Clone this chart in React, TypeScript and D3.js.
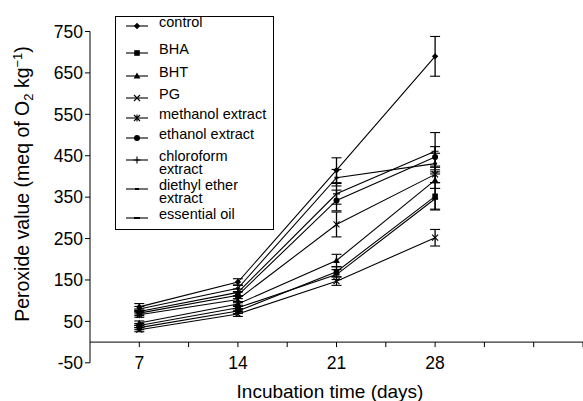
import React from "react";
import * as d3 from "d3";

const days = [7, 14, 21, 28];
const xTicks = [7, 10.5, 14, 17.5, 21, 24.5, 28, 31.5, 35, 38.5];
const xLabels = [7, 14, 21, 28];
const yTicks = [-50, 50, 150, 250, 350, 450, 550, 650, 750];

const control = [85, 145, 415, 690];
const controlErr = [8, 8, 30, 48];
const bha = [35, 75, 170, 352];
const bhaErr = [5, 6, 12, 33];
const bht = [46, 92, 197, 391];
const bhtErr = [5, 6, 15, 20];
const pg = [30, 68, 147, 252];
const pgErr = [5, 6, 10, 20];
const methanol = [66, 103, 284, 405];
const methanolErr = [6, 8, 30, 20];
const ethanol = [70, 113, 342, 447];
const ethanolErr = [6, 8, 25, 25];
const chloroform = [74, 120, 358, 461];
const chloroformErr = [6, 8, 25, 45];
const diethyl = [80, 130, 397, 431];
const diethylErr = [6, 8, 20, 25];
const essential = [40, 83, 163, 346];
const essentialErr = [5, 6, 12, 25];

const seriesNames = [
  ["control"],
  ["BHA"],
  ["BHT"],
  ["PG"],
  ["methanol extract"],
  ["ethanol extract"],
  ["chloroform", "extract"],
  ["diethyl ether", "extract"],
  ["essential oil"],
];
const seriesValues = [control, bha, bht, pg, methanol, ethanol, chloroform, diethyl, essential];
const seriesErrors = [controlErr, bhaErr, bhtErr, pgErr, methanolErr, ethanolErr, chloroformErr, diethylErr, essentialErr];
const markerTypes = ["diamond", "square", "triangle", "x", "asterisk", "circle", "plus", "dash", "dash2"];
const legendRowY = [26, 53, 76, 98, 118, 138, 160, 189, 218];

const W = 583;
const H = 401;
const FONT = "'Liberation Sans', Arial, Helvetica, sans-serif";

function Marker({ type, cx, cy }: { type: string; cx: number; cy: number }) {
  const r = 3.2;
  switch (type) {
    case "diamond":
      return <path d={`M${cx},${cy - r} L${cx + r},${cy} L${cx},${cy + r} L${cx - r},${cy} Z`} fill="#000" />;
    case "square":
      return <rect x={cx - 2.8} y={cy - 2.8} width={5.6} height={5.6} fill="#000" />;
    case "triangle":
      return <path d={`M${cx},${cy - 3.4} L${cx + 3.4},${cy + 2.6} L${cx - 3.4},${cy + 2.6} Z`} fill="#000" />;
    case "x":
      return (
        <path d={`M${cx - 3},${cy - 3} L${cx + 3},${cy + 3} M${cx - 3},${cy + 3} L${cx + 3},${cy - 3}`} stroke="#000" strokeWidth={1.1} />
      );
    case "asterisk":
      return (
        <path
          d={`M${cx - 3},${cy - 3} L${cx + 3},${cy + 3} M${cx - 3},${cy + 3} L${cx + 3},${cy - 3} M${cx},${cy - 3.5} L${cx},${cy + 3.5}`}
          stroke="#000"
          strokeWidth={1.1}
        />
      );
    case "circle":
      return <circle cx={cx} cy={cy} r={3} fill="#000" />;
    case "plus":
      return <path d={`M${cx - 3.5},${cy} L${cx + 3.5},${cy} M${cx},${cy - 3.5} L${cx},${cy + 3.5}`} stroke="#000" strokeWidth={1.1} />;
    case "dash":
      return <rect x={cx - 2} y={cy - 1} width={4} height={2} fill="#000" />;
    default:
      return <rect x={cx - 3} y={cy - 1} width={6} height={2} fill="#000" />;
  }
}

export default function App() {
  const x = d3.scaleLinear().domain([3.5, 38.5]).range([90, 583]);
  const y = d3.scaleLinear().domain([-50, 750]).range([362.8, 31.5]);
  const line = d3
    .line<number>()
    .x((_, i) => x(days[i]))
    .y((d) => y(d));

  const y0 = y(0);

  return (
    <svg width={W} height={H} style={{ position: "absolute", left: 0, top: 0, background: "#fff" }} fontFamily={FONT}>
      <rect x={0} y={0} width={W} height={H} fill="#fff" />
      {/* Y axis */}
      <line x1={90} x2={90} y1={y(-50)} y2={y(750)} stroke="#000" strokeWidth={1} />
      {yTicks.map((t) => (
        <g key={t}>
          <line x1={85} x2={90} y1={y(t)} y2={y(t)} stroke="#000" />
          <text x={83} y={y(t)} dy="0.36em" textAnchor="end" fontSize={17.5}>
            {t}
          </text>
        </g>
      ))}
      {/* X axis */}
      <line x1={90} x2={W} y1={y0} y2={y0} stroke="#000" strokeWidth={1} />
      {xTicks.map((t) => (
        <line key={t} x1={x(t)} x2={x(t)} y1={y0} y2={y0 + 5} stroke="#000" />
      ))}
      {xLabels.map((t) => (
        <text key={t} x={x(t)} y={y0 + 21} dy="0.36em" textAnchor="middle" fontSize={17.5}>
          {t}
        </text>
      ))}
      <text x={330} y={391} dy="0.36em" textAnchor="middle" fontSize={19}>
        Incubation time (days)
      </text>
      <text transform={`translate(29,184) rotate(-90)`} textAnchor="middle" fontSize={19.5}>
        Peroxide value (meq of O
        <tspan fontSize={13} dy={4}>2</tspan>
        <tspan dy={-4}> kg</tspan>
        <tspan fontSize={13} dy={-7}>−1</tspan>
        <tspan dy={7}>)</tspan>
      </text>

      {/* Series */}
      {seriesValues.map((vals, si) => (
        <g key={si}>
          <path d={line(vals) || ""} fill="none" stroke="#000" strokeWidth={1.1} />
          {vals.map((v, i) => {
            const e = seriesErrors[si][i];
            const cx = x(days[i]);
            return (
              <g key={i}>
                <line x1={cx} x2={cx} y1={y(v - e)} y2={y(v + e)} stroke="#000" strokeWidth={1.3} />
                <line x1={cx - 5} x2={cx + 5} y1={y(v - e)} y2={y(v - e)} stroke="#000" strokeWidth={1.1} />
                <line x1={cx - 5} x2={cx + 5} y1={y(v + e)} y2={y(v + e)} stroke="#000" strokeWidth={1.1} />
                <Marker type={markerTypes[si]} cx={cx} cy={y(v)} />
              </g>
            );
          })}
        </g>
      ))}

      {/* Legend */}
      <rect x={115.5} y={16.5} width={158} height={213} fill="#fff" stroke="#000" strokeWidth={1} />
      {seriesNames.map((lines, i) => {
        const ly = legendRowY[i];
        return (
          <g key={i}>
            <line x1={126} x2={148} y1={ly} y2={ly} stroke="#000" strokeWidth={1.1} />
            <Marker type={markerTypes[i]} cx={137} cy={ly} />
            <text x={159} y={ly} dy="0.05em" fontSize={14.5}>
              {lines.map((t, j) => (
                <tspan key={j} x={159} dy={j === 0 ? "0.05em" : 13.5}>
                  {t}
                </tspan>
              ))}
            </text>
          </g>
        );
      })}
    </svg>
  );
}
